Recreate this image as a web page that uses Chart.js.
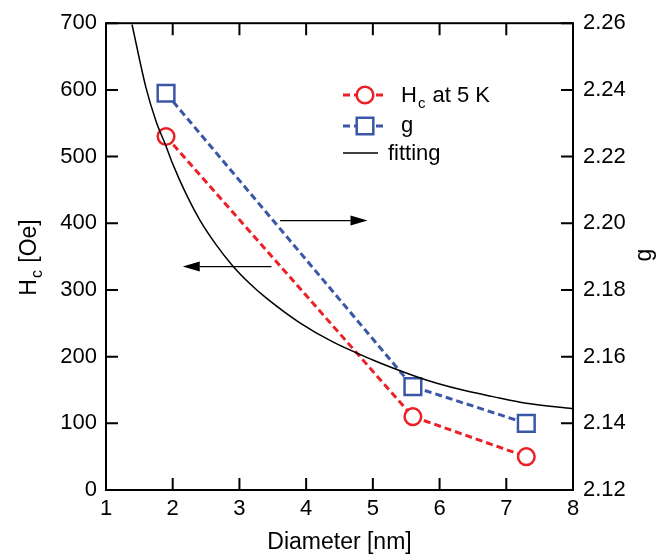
<!DOCTYPE html>
<html>
<head>
<meta charset="utf-8">
<script src="https://cdn.jsdelivr.net/npm/chart.js@4.4.1/dist/chart.umd.min.js"></script>
<style>
  html, body { margin: 0; padding: 0; background: #fff; }
  #wrap { width: 670px; height: 554px; }
</style>
</head>
<body>
<div id="wrap"><canvas id="hcChart" width="670" height="554"></canvas></div>
<script>
// axis ticks
var diameterTicks = [1, 2, 3, 4, 5, 6, 7, 8];
var hcTicks = [0, 100, 200, 300, 400, 500, 600, 700];
var gTicks = [2.12, 2.14, 2.16, 2.18, 2.20, 2.22, 2.24, 2.26];

// measured samples
var sampleDiameter = [1.9, 5.6, 7.3];
var hcValues = [530, 110, 50];
var gValues = [2.239, 2.151, 2.140];

// fitted curve, read point by point
var fitDiameter = [1.39, 1.6, 1.75, 1.89, 2.0, 2.2, 2.4, 2.65, 2.9, 3.15, 3.4, 3.9, 4.4, 5.0, 5.3, 5.8, 6.3, 6.8, 7.3, 8.0];
var fitHc = [698, 603, 553, 518, 489, 444, 406, 368, 336, 310, 288, 251, 222, 195, 183, 165, 151, 140, 130, 122];

var RED = '#ec2027';
var BLUE = '#3a57a7';
var FONT = "'Liberation Sans', Arial, Helvetica, sans-serif";

function pairs(xs, ys) {
    return xs.map(function(x, i) { return { x: x, y: ys[i] }; });
}

function useTicks(list) {
    return function(scale) {
        scale.ticks = list.map(function(v) { return { value: v }; });
    };
}

function arrow(ctx, x1, y1, x2, y2) {
    var ang = Math.atan2(y2 - y1, x2 - x1);
    var len = 17, half = 5;
    ctx.beginPath();
    ctx.moveTo(x1, y1);
    ctx.lineTo(x2 - len * Math.cos(ang), y2 - len * Math.sin(ang));
    ctx.stroke();
    ctx.beginPath();
    ctx.moveTo(x2, y2);
    ctx.lineTo(x2 - len * Math.cos(ang) + half * Math.sin(ang), y2 - len * Math.sin(ang) - half * Math.cos(ang));
    ctx.lineTo(x2 - len * Math.cos(ang) - half * Math.sin(ang), y2 - len * Math.sin(ang) + half * Math.cos(ang));
    ctx.closePath();
    ctx.fill();
}

// "H" with subscript "c" followed by rest of text, drawn from (x, y) baseline
function hcText(ctx, x, y, size, rest) {
    ctx.font = size + 'px ' + FONT;
    ctx.fillText('H', x, y);
    var w = ctx.measureText('H').width;
    ctx.font = Math.round(size * 0.68) + 'px ' + FONT;
    ctx.fillText('c', x + w + 1, y + size * 0.28);
    var wc = ctx.measureText('c').width;
    ctx.font = size + 'px ' + FONT;
    ctx.fillText(rest, x + w + wc + 2, y);
    return w + wc + 2 + ctx.measureText(rest).width;
}

var framePlugin = {
    id: 'frame',
    afterDraw: function(chart) {
        var ctx = chart.ctx;
        var a = chart.chartArea;
        var xs = chart.scales.x, yl = chart.scales.y, yr = chart.scales.y1;
        var tl = 12;
        ctx.save();
        ctx.strokeStyle = '#000';
        ctx.fillStyle = '#000';
        ctx.lineWidth = 2;
        ctx.strokeRect(a.left, a.top, a.right - a.left, a.bottom - a.top);

        // inward ticks on all four sides
        ctx.beginPath();
        diameterTicks.forEach(function(v) {
            var px = xs.getPixelForValue(v);
            ctx.moveTo(px, a.bottom); ctx.lineTo(px, a.bottom - tl);
            ctx.moveTo(px, a.top); ctx.lineTo(px, a.top + tl);
        });
        hcTicks.forEach(function(v) {
            var py = yl.getPixelForValue(v);
            ctx.moveTo(a.left, py); ctx.lineTo(a.left + tl, py);
        });
        gTicks.forEach(function(v) {
            var py = yr.getPixelForValue(v);
            ctx.moveTo(a.right, py); ctx.lineTo(a.right - tl, py);
        });
        ctx.stroke();

        // arrows pointing at the axis each series belongs to
        ctx.lineWidth = 1.4;
        arrow(ctx, xs.getPixelForValue(3.61), yl.getPixelForValue(404),
                   xs.getPixelForValue(4.92), yl.getPixelForValue(404));
        arrow(ctx, xs.getPixelForValue(3.48), yl.getPixelForValue(335),
                   xs.getPixelForValue(2.15), yl.getPixelForValue(335));

        // axis titles
        ctx.textBaseline = 'alphabetic';
        ctx.textAlign = 'center';
        ctx.font = '23px ' + FONT;
        ctx.fillText('Diameter [nm]', (a.left + a.right) / 2, 549);

        ctx.save();
        ctx.translate(36, 256);
        ctx.rotate(-Math.PI / 2);
        ctx.textAlign = 'left';
        ctx.font = '23px ' + FONT;
        var tw = ctx.measureText('H').width + ctx.measureText(' [Oe]').width + 13;
        hcText(ctx, -tw / 2, 0, 23, ' [Oe]');
        ctx.restore();

        ctx.save();
        ctx.translate(651, 255);
        ctx.rotate(-Math.PI / 2);
        ctx.textAlign = 'center';
        ctx.font = '23px ' + FONT;
        ctx.fillText('g', 0, 0);
        ctx.restore();

        // legend
        var lx = 343, ly = [95, 126, 153];
        ctx.textAlign = 'left';
        ctx.lineWidth = 3;
        ctx.setLineDash([7, 4]);
        ctx.strokeStyle = RED;
        ctx.beginPath(); ctx.moveTo(lx, ly[0]); ctx.lineTo(lx + 44, ly[0]); ctx.stroke();
        ctx.strokeStyle = BLUE;
        ctx.beginPath(); ctx.moveTo(lx, ly[1]); ctx.lineTo(lx + 44, ly[1]); ctx.stroke();
        ctx.setLineDash([]);
        ctx.lineWidth = 2.5;
        ctx.fillStyle = '#fff';
        ctx.strokeStyle = RED;
        ctx.beginPath(); ctx.arc(lx + 22, ly[0], 8.3, 0, Math.PI * 2); ctx.fill(); ctx.stroke();
        ctx.strokeStyle = BLUE;
        ctx.beginPath(); ctx.rect(lx + 22 - 8.3, ly[1] - 8.3, 16.6, 16.6); ctx.fill(); ctx.stroke();
        ctx.strokeStyle = '#000';
        ctx.lineWidth = 1.5;
        ctx.beginPath(); ctx.moveTo(lx, ly[2]); ctx.lineTo(lx + 35, ly[2]); ctx.stroke();

        ctx.fillStyle = '#000';
        hcText(ctx, 401, ly[0] + 7, 22, ' at 5 K');
        ctx.font = '22px ' + FONT;
        ctx.fillText('g', 401, ly[1] + 6);
        ctx.fillText('fitting', 388, ly[2] + 7);
        ctx.restore();
    }
};

var ctx = document.getElementById('hcChart');

var data = {
    datasets: [
        {
            label: 'fitting',
            data: pairs(fitDiameter, fitHc),
            yAxisID: 'y',
            borderColor: '#000',
            borderWidth: 1.5,
            pointRadius: 0,
            cubicInterpolationMode: 'monotone',
            order: 0
        },
        {
            label: 'Hc at 5 K',
            data: pairs(sampleDiameter, hcValues),
            yAxisID: 'y',
            borderColor: RED,
            borderWidth: 3,
            borderDash: [7, 4],
            pointStyle: 'circle',
            pointRadius: 8.3,
            pointBorderWidth: 2.5,
            pointBorderColor: RED,
            pointBackgroundColor: '#fff',
            order: 1
        },
        {
            label: 'g',
            data: pairs(sampleDiameter, gValues),
            yAxisID: 'y1',
            borderColor: BLUE,
            borderWidth: 3,
            borderDash: [7, 4],
            pointStyle: 'rect',
            pointRadius: 11.8,
            pointBorderWidth: 2.5,
            pointBorderColor: BLUE,
            pointBackgroundColor: '#fff',
            order: 2
        }
    ]
};

var tickFont = { family: FONT, size: 22 };

var options = {
    responsive: false,
    animation: false,
    layout: { padding: { top: 23 } },
    plugins: {
        legend: { display: false },
        tooltip: { enabled: false }
    },
    scales: {
        x: {
            type: 'linear',
            min: 1, max: 8,
            afterBuildTicks: useTicks(diameterTicks),
            afterFit: function(s) { s.height = 64; },
            grid: { display: false, drawTicks: false },
            border: { display: false },
            ticks: { color: '#000', font: tickFont, padding: 6, maxRotation: 0 }
        },
        y: {
            type: 'linear',
            position: 'left',
            min: 0, max: 700,
            afterBuildTicks: useTicks(hcTicks),
            afterFit: function(s) { s.width = 106; },
            grid: { display: false, drawTicks: false },
            border: { display: false },
            ticks: { color: '#000', font: tickFont, padding: 9 }
        },
        y1: {
            type: 'linear',
            position: 'right',
            min: 2.12, max: 2.26,
            afterBuildTicks: useTicks(gTicks),
            afterFit: function(s) { s.width = 97; },
            grid: { display: false, drawTicks: false },
            border: { display: false },
            ticks: {
                color: '#000', font: tickFont, padding: 10,
                callback: function(v) { return v.toFixed(2); }
            }
        }
    }
};

var hcChart = new Chart(ctx, {
    type: 'line',
    data: data,
    options: options,
    plugins: [framePlugin]
});
</script>
</body>
</html>
